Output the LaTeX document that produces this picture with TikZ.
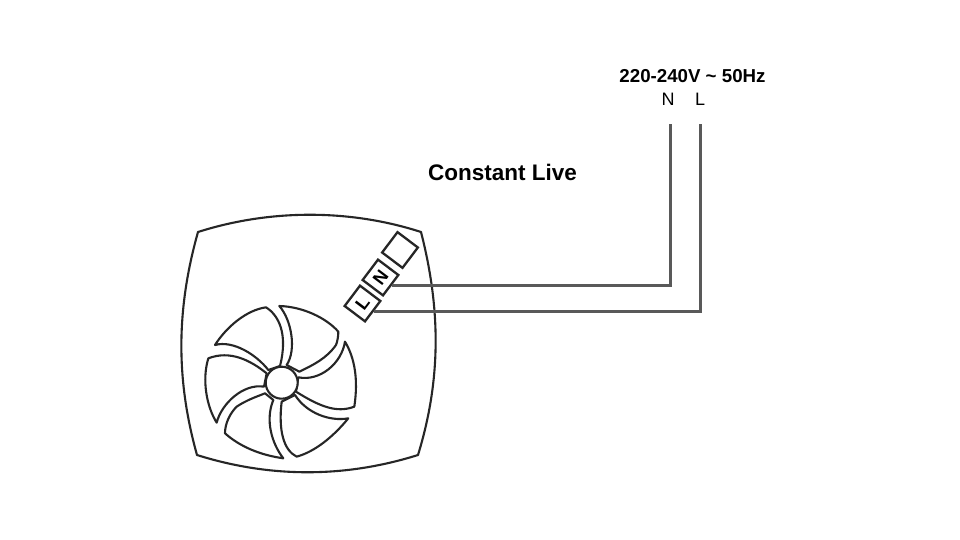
\documentclass[tikz,border=0pt]{standalone}
\usepackage{fontspec}
\setmainfont{Liberation Sans}
\definecolor{wire}{HTML}{595959}
\definecolor{ink}{HTML}{262626}
\tikzset{
  wireline/.style={draw=wire,line width=3pt},
  fanline/.style={draw=ink,line width=2.1pt,line join=round,fill=white},
  terminal/.style={draw=ink,line width=2.3pt,rectangle,minimum size=25.5pt,inner sep=0pt,rotate=53,fill=white,
     font=\fontsize{18}{18}\selectfont\bfseries},
  boldlabel/.style={inner sep=0pt,font=\fontsize{18.7}{20}\selectfont\bfseries},
  headlabel/.style={inner sep=0pt,font=\fontsize{22.5}{26}\selectfont\bfseries},
  plainlabel/.style={inner sep=0pt,font=\fontsize{18}{20}\selectfont},
}
\begin{document}
\begin{tikzpicture}[x=1pt,y=-1pt]
\useasboundingbox (0,0) rectangle (960,540);
\fill[white] (0,0) rectangle (960,540);
% body
\draw[fanline] (198,232) .. controls (270,209) and (350,209) .. (421,232)
  .. controls (441,310) and (441,380) .. (418,455)
  .. controls (345,478) and (270,478) .. (197,455)
  .. controls (176,380) and (176,310) .. (198,232) -- cycle;
% fan blades, in zoomed coordinates
\begin{scope}[shift={(190,290)},x=0.3333pt,y=-0.3333pt]
\draw[fanline] (75,165) .. controls (110,110) and (170,60) .. (228,52)
  .. controls (265,75) and (295,130) .. (270,228) -- (235,240)
  .. controls (200,195) and (130,150) .. (75,165) -- cycle;
\draw[fanline] (268,48) .. controls (340,50) and (410,85) .. (445,125)
  .. controls (445,140) and (442,155) .. (438,165)
  .. controls (410,205) and (370,225) .. (328,245) -- (290,225)
  .. controls (320,180) and (305,90) .. (268,48) -- cycle;
\draw[fanline] (465,155) .. controls (495,205) and (505,270) .. (493,350)
  .. controls (440,370) and (390,350) .. (318,305) -- (325,262)
  .. controls (390,275) and (455,220) .. (465,155) -- cycle;
\draw[fanline] (475,385) .. controls (430,440) and (375,485) .. (320,500)
  .. controls (280,480) and (265,420) .. (275,335) -- (315,315)
  .. controls (350,370) and (420,395) .. (475,385) -- cycle;
\draw[fanline] (280,505) .. controls (210,495) and (150,470) .. (105,430)
  .. controls (105,400) and (120,370) .. (140,350)
  .. controls (170,330) and (200,320) .. (225,310) -- (250,330)
  .. controls (225,390) and (245,460) .. (280,505) -- cycle;
\draw[fanline] (80,398) .. controls (50,350) and (35,270) .. (55,205)
  .. controls (120,180) and (180,210) .. (230,250) -- (222,290)
  .. controls (160,280) and (95,340) .. (80,398) -- cycle;
\end{scope}
\node[fanline,circle,minimum size=32pt,inner sep=0pt] (hub) at (281.7,382.7) {};
% terminals
\node[terminal] (tB) at (400,250) {};
\node[terminal] (tN) at (380.5,277.5) {N};
\node[terminal] (tL) at (362.5,303.5) {L};
% labels
\node[boldlabel] (supply) at (692.5,76) {220-240V \char`\~{} 50Hz};
\node[plainlabel] (lblN) at (668,99) {N};
\node[plainlabel] (lblL) at (700,99) {L};
\node[headlabel] (title) at (502.5,172.5) {Constant Live};
% wires
\coordinate (nEnd) at (670,124);
\coordinate (lEnd) at (700,124);
\draw[wireline] (tN.south) -| (nEnd);
\draw[wireline] (tL.south) -| (lEnd);
\end{tikzpicture}
\end{document}
